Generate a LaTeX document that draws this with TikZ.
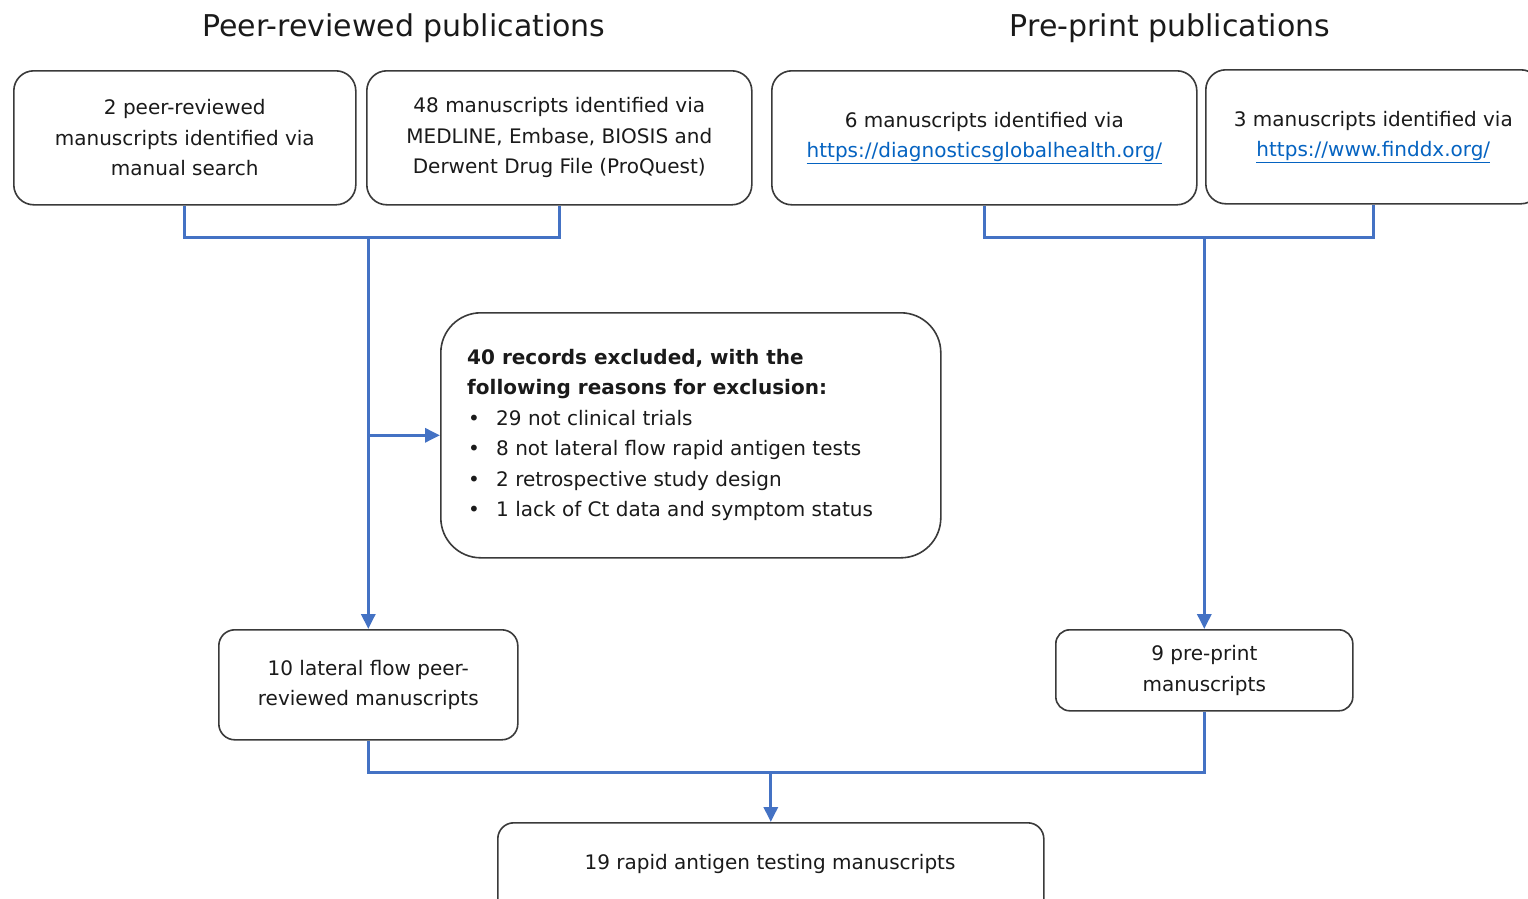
\documentclass[tikz,border=0pt]{standalone}
\usepackage{fontspec}
\setmainfont{DejaVu Sans}
\usetikzlibrary{arrows.meta}
\definecolor{connc}{HTML}{4472C4}
\definecolor{lnk}{HTML}{0563C1}
\definecolor{bord}{HTML}{3A3A3A}
\definecolor{txt}{HTML}{1A1A1A}
\newcommand\bodyfont{\fontsize{20}{30.4}\selectfont}
\newcommand\titlefont{\fontsize{30}{36}\selectfont}
\newcommand\lnktext[1]{\textcolor{lnk}{\underline{#1}}}
\newcommand\bul{\makebox[29pt][l]{\hspace{1pt}•}}
\tikzset{
 box/.style={draw=bord, line width=1.6pt, rounded corners=20pt, anchor=north west, inner sep=0pt, align=center, text=txt, font=\bodyfont},
 connl/.style={draw=connc, line width=3pt},
 arr/.style={connl, -{Triangle[length=15pt,width=14pt]}},
 ttl/.style={font=\titlefont, text=txt},
 lbl/.style={font=\bodyfont, text=txt, inner sep=0pt},
}
\begin{document}
\begin{tikzpicture}[x=1pt,y=-1pt]
\clip (0,0) rectangle (1528,898);
\fill[white] (0,0) rectangle (1528,898);
% titles
\node[ttl] (t1) at (404,28) {Peer-reviewed publications};
\node[ttl] (t2) at (1170,28) {Pre-print publications};
% top boxes
\node[box, minimum width=342pt, minimum height=134pt] (a) at (13,70) {2 peer-reviewed\\manuscripts identified via\\manual search};
\node[box, minimum width=385pt, minimum height=134pt] (b) at (366,70) {48 manuscripts identified via\\MEDLINE, Embase, BIOSIS and\\Derwent Drug File (ProQuest)};
\node[box, minimum width=425pt, minimum height=134pt] (c) at (771,70) {6 manuscripts identified via\\\lnktext{https://diagnosticsglobalhealth.org/}};
\node[box, minimum width=335pt, minimum height=134pt] (d) at (1205,69) {3 manuscripts identified via\\\lnktext{https://www.finddx.org/}};
% exclusion box
\node[box, rounded corners=40pt, minimum width=500pt, minimum height=245pt] (ex) at (440,312) {};
\node[lbl, anchor=north west, align=left] (extxt) at (467,349) {\textbf{40 records excluded, with the}\\
\textbf{following reasons for exclusion:}\\
\bul 29 not clinical trials\\
\bul 8 not lateral flow rapid antigen tests\\
\bul 2 retrospective study design\\
\bul 1 lack of Ct data and symptom status};
% middle boxes
\node[box, rounded corners=16pt, minimum width=299pt, minimum height=110pt] (e) at (218,629) {10 lateral flow peer-\\reviewed manuscripts};
\node[box, rounded corners=14pt, minimum width=297pt, minimum height=81pt] (f) at (1055,629) {9 pre-print\\manuscripts};
% bottom box
\node[box, rounded corners=16pt, minimum width=546pt, minimum height=100pt] (g) at (497,822) {};
\node[lbl] (gt) at (770,864) {19 rapid antigen testing manuscripts};
% connectors
\coordinate (jl) at (e.north |- 0,237);
\coordinate (jr) at (f.north |- 0,237);
\coordinate (jb) at (g.north |- 0,772);
\draw[connl] (a.south) |- (jl) -| (b.south);
\draw[arr] (jl) -- (e.north);
\draw[arr] (jl |- ex.west) -- (ex.west);
\draw[connl] (c.south) |- (jr) -| (d.south);
\draw[arr] (jr) -- (f.north);
\draw[connl] (e.south) |- (jb) -| (f.south);
\draw[arr] (jb) -- (g.north);
\end{tikzpicture}
\end{document}
